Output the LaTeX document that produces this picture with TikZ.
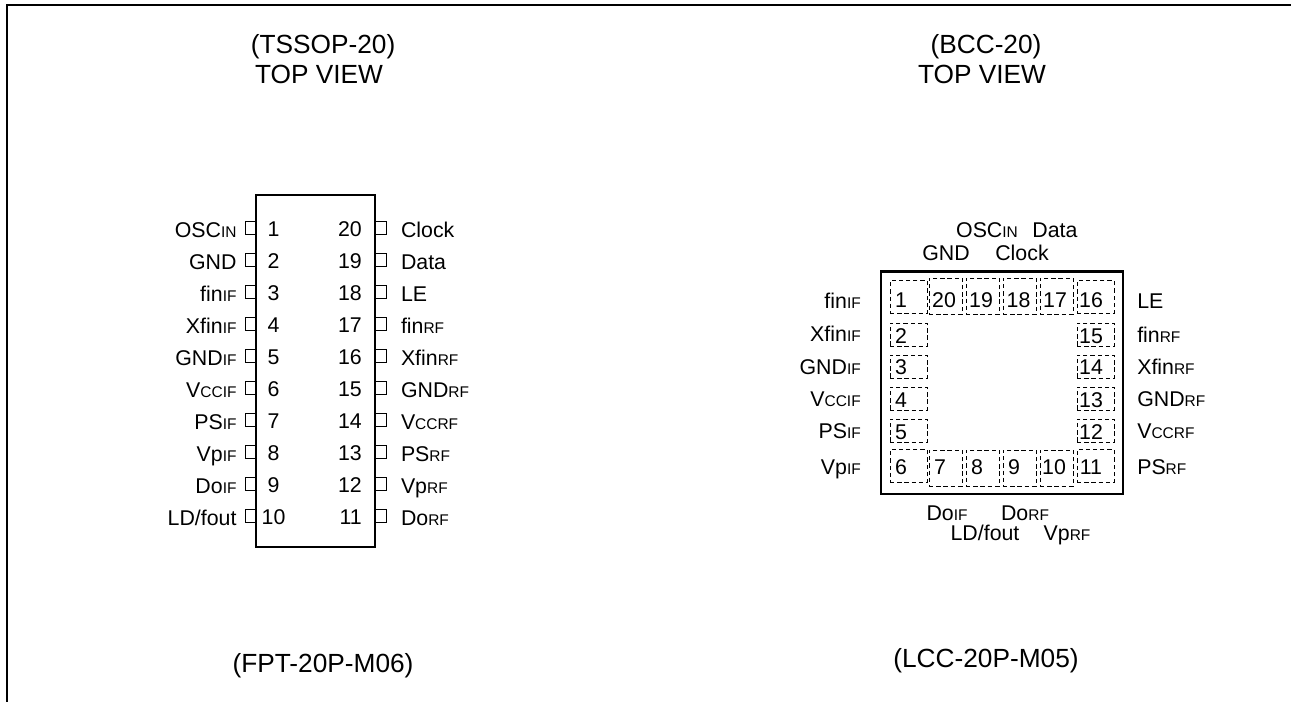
\documentclass[tikz,border=0pt]{standalone}
\usepackage{fontspec}
\setmainfont{Liberation Sans}
\usetikzlibrary{positioning}
\newcommand{\pinsub}[1]{{\fontsize{11.6}{12}\selectfont #1}}

\begin{document}
\begin{tikzpicture}[
  x=0.75pt, y=-0.75pt,
  every node/.style={font=\fontsize{16}{18}\selectfont, inner sep=0pt, text height=11.5pt, text depth=0pt},
  title/.style={align=center, font=\fontsize{19.7}{22}\selectfont, text height=14.1pt},
  package/.style={draw, line width=1.5pt},
  pin/.style={draw, line width=0.6pt, minimum width=8pt, minimum height=10pt, text height=0pt},
  pad/.style={draw, dashed, line width=0.7pt, dash pattern=on 3.2pt off 2.2pt, text height=0pt},
  padcorner/.style={pad, minimum width=27.7pt, minimum height=24.5pt},
  padside/.style={pad, minimum width=27.7pt, minimum height=17.2pt},
  padrow/.style={pad, minimum width=24.7pt, minimum height=27pt}
]
\useasboundingbox (0,0) rectangle (1291,702);

% Page frame
\coordinate (frameBL) at (7,702);
\coordinate (frameTL) at (7,5);
\coordinate (frameTR) at (1291,5);
\draw[line width=1.5pt] (frameBL) -- (frameTL) -- (frameTR);

% Titles
\node[title] (tssopname) at (323,44) {(TSSOP-20)};
\node[title] (tssopview) at (319,74) {TOP VIEW};
\node[title] (bccname) at (986,44) {(BCC-20)};
\node[title] (bccview) at (982,74) {TOP VIEW};
\node[title] (fptname) at (323,663) {(FPT-20P-M06)};
\node[title] (lccname) at (986,658) {(LCC-20P-M05)};

% TSSOP package
\node[package, minimum width=89.5pt, minimum height=264pt] (tssop) at (315.5,371) {};

% TSSOP left pins
\foreach \n/\txt [count=\i from 0] in {1/OSC\pinsub{IN}, 2/GND, 3/fin\pinsub{IF}, 4/Xfin\pinsub{IF}, 5/GND\pinsub{IF}, 6/V\pinsub{CCIF}, 7/PS\pinsub{IF}, 8/Vp\pinsub{IF}, 9/Do\pinsub{IF}, 10/{LD/fout}} {
  \node[pin] (pinL\n) at (250.5,228+32*\i) {};
  \node[left=6pt of pinL\n, yshift=-1.5pt] (nameL\n) {\txt};
  \node (numL\n) at (273.5,229+32*\i) {\n};
}

% TSSOP right pins
\foreach \n/\txt [count=\i from 0] in {20/Clock, 19/Data, 18/LE, 17/fin\pinsub{RF}, 16/Xfin\pinsub{RF}, 15/GND\pinsub{RF}, 14/V\pinsub{CCRF}, 13/PS\pinsub{RF}, 12/Vp\pinsub{RF}, 11/Do\pinsub{RF}} {
  \node[pin] (pinR\n) at (381,228+32*\i) {};
  \node[right=10.5pt of pinR\n, yshift=-1.5pt] (nameR\n) {\txt};
  \node[anchor=east] (numR\n) at (362,229+32*\i) {\n};
}

% BCC package
\node[package, line width=2pt, minimum width=181.5pt, minimum height=167pt] (bcc) at (1002,382.5) {};

% BCC pads
\foreach \n/\x/\y in {1/908.5/297, 16/1095.5/297, 6/908.5/466, 11/1095.5/466}
  \node[padcorner] (pad\n) at (\x,\y) {};
\foreach \n/\y in {2/334.5, 3/366.5, 4/398.5, 5/430.5}
  \node[padside] (pad\n) at (908.5,\y) {};
\foreach \n/\y in {15/334.5, 14/366.5, 13/398.5, 12/430.5}
  \node[padside] (pad\n) at (1095.5,\y) {};
\foreach \n/\x in {20/945.5, 19/982.5, 18/1019.5, 17/1056.5}
  \node[padrow] (pad\n) at (\x,296) {};
\foreach \n/\x in {7/945.5, 8/982.5, 9/1019.5, 10/1056.5}
  \node[padrow] (pad\n) at (\x,468) {};

% BCC pad numbers
\foreach \n/\x/\y in {1/901/300, 2/901/336, 3/901/367, 4/901/400, 5/901/432, 6/901/467, 7/940/467, 8/977/467, 9/1014/467, 10/1054/467, 11/1091/467, 12/1091/432, 13/1091/400, 14/1091/367, 15/1091/336, 16/1091/300, 17/1055/300, 18/1018.5/300, 19/981/300, 20/944/300}
  \node (padnum\n) at (\x,\y) {\n};

% BCC left names
\foreach \txt/\y in {fin\pinsub{IF}/301, Xfin\pinsub{IF}/334, GND\pinsub{IF}/367, V\pinsub{CCIF}/399, PS\pinsub{IF}/431, Vp\pinsub{IF}/467}
  \node[anchor=east] (left\y) at (861,\y) {\txt};

% BCC right names
\foreach \txt/\y in {LE/301, fin\pinsub{RF}/335, Xfin\pinsub{RF}/367, GND\pinsub{RF}/399, V\pinsub{CCRF}/431, PS\pinsub{RF}/467}
  \node[anchor=west] (right\y) at (1137,\y) {\txt};

% BCC top and bottom names
\node (oscin) at (987,230) {OSC\pinsub{IN}};
\node (data) at (1055,230) {Data};
\node (gnd) at (946,253) {GND};
\node (clock) at (1022,253) {Clock};
\node (doif) at (947,513) {Do\pinsub{IF}};
\node (dorf) at (1025,513) {Do\pinsub{RF}};
\node (ldfout) at (985,533) {LD/fout};
\node (vprf) at (1067,533) {Vp\pinsub{RF}};

\end{tikzpicture}
\end{document}
